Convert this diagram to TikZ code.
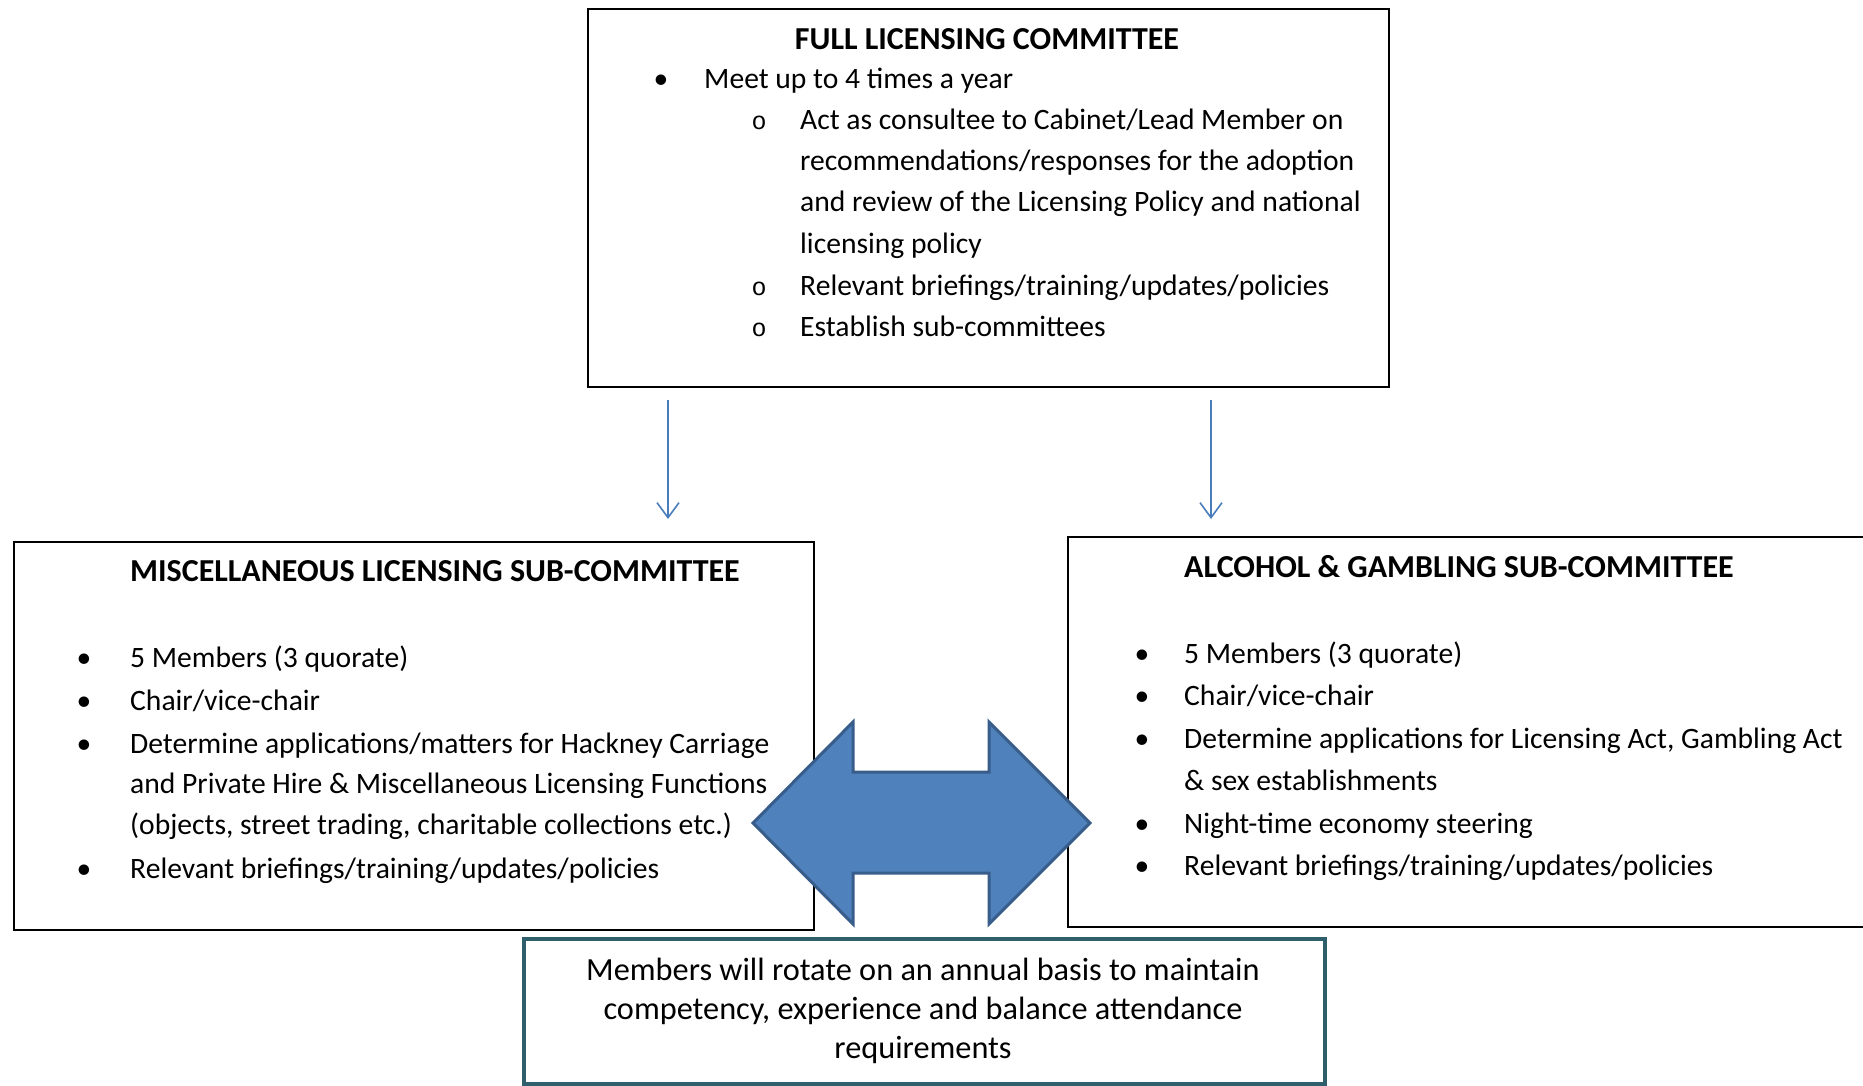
\documentclass[tikz,border=0pt]{standalone}
\usepackage{fontspec}
\setmainfont{Carlito}
\newfontfamily\monofnt{Liberation Mono}
\usetikzlibrary{arrows.meta}
\definecolor{arrowfill}{HTML}{4F81BD}
\definecolor{arrowline}{HTML}{385D8A}
\definecolor{connblue}{HTML}{4A7EBB}
\definecolor{tealbox}{HTML}{2E5F6A}
\begin{document}
\begin{tikzpicture}[x=1pt,y=-1pt,
  box/.style={draw=black, line width=2pt, inner sep=0pt, anchor=north west},
  body/.style={anchor=base west, inner sep=0pt, font=\fontsize{29.6}{35}\selectfont},
  cbody/.style={anchor=base, inner sep=0pt, font=\fontsize{32.3}{38}\selectfont},
  ttl/.style={anchor=base west, inner sep=0pt, font=\fontsize{32}{38}\selectfont\bfseries},
  bul/.style={anchor=base, inner sep=0pt, font=\fontsize{29.6}{35}\selectfont},
  subbul/.style={anchor=base, inner sep=0pt, font=\fontsize{25}{30}\monofnt},
  conn/.style={draw=connblue, line width=1.6pt, -{Straight Barb[length=15pt,width=22pt,line width=1.6pt]}},
  bigarrow/.style={fill=arrowfill, draw=arrowline, line width=3pt, line join=miter}]
\useasboundingbox (0,0) rectangle (1863,1085);
\fill[white] (0,0) rectangle (1863,1085);

% boxes
\node[box, minimum width=801pt, minimum height=378pt] (full) at (587,8) {};
\node[box, minimum width=800pt, minimum height=388pt] (misc) at (13,541) {};
\node[box, minimum width=830pt, minimum height=390pt] (alco) at (1067,536) {};
\node[box, draw=tealbox, line width=4pt, minimum width=801pt, minimum height=145pt] (rot) at (522,937) {};

% connectors
\coordinate (a1s) at (668,400);
\coordinate (a1e) at (668,519);
\coordinate (a2s) at (1211,400);
\coordinate (a2e) at (1211,519);
\draw[conn] (a1s) -- (a1e);
\draw[conn] (a2s) -- (a2e);

% full licensing committee
\node[ttl, anchor=base] (t0) at (987,49) {FULL LICENSING COMMITTEE};
\node[bul] (tb1) at (661,88) {•};
\node[body] (t1) at (704,88) {Meet up to 4 times a year};
\node[subbul] (to1) at (759,129) {o};
\node[body] (t2) at (800,129) {Act as consultee to Cabinet/Lead Member on};
\node[body] (t3) at (800,170) {recommendations/responses for the adoption};
\node[body] (t4) at (800,211) {and review of the Licensing Policy and national};
\node[body] (t5) at (800,253) {licensing policy};
\node[subbul] (to2) at (759,295) {o};
\node[body] (t6) at (800,295) {Relevant briefings/training/updates/policies};
\node[subbul] (to3) at (759,336) {o};
\node[body] (t7) at (800,336) {Establish sub-committees};

% misc sub-committee
\node[ttl] (m0) at (130,581) {MISCELLANEOUS LICENSING SUB-COMMITTEE};
\node[bul] (mb1) at (84,667) {•};
\node[body] (m1) at (130,667) {5 Members (3 quorate)};
\node[bul] (mb2) at (84,710) {•};
\node[body] (m2) at (130,710) {Chair/vice-chair};
\node[bul] (mb3) at (84,753) {•};
\node[body] (m3) at (130,753) {Determine applications/matters for Hackney Carriage};
\node[body] (m4) at (130,793) {and Private Hire \& Miscellaneous Licensing Functions};
\node[body] (m5) at (130,834) {(objects, street trading, charitable collections etc.)};
\node[bul] (mb4) at (84,878) {•};
\node[body] (m6) at (130,878) {Relevant briefings/training/updates/policies};

% alcohol sub-committee
\node[ttl] (g0) at (1184,577) {ALCOHOL \& GAMBLING SUB-COMMITTEE};
\node[bul] (gb1) at (1142,663) {•};
\node[body] (g1) at (1184,663) {5 Members (3 quorate)};
\node[bul] (gb2) at (1142,705) {•};
\node[body] (g2) at (1184,705) {Chair/vice-chair};
\node[bul] (gb3) at (1142,748) {•};
\node[body] (g3) at (1184,748) {Determine applications for Licensing Act, Gambling Act};
\node[body] (g4) at (1184,790) {\& sex establishments};
\node[bul] (gb4) at (1142,833) {•};
\node[body] (g5) at (1184,833) {Night-time economy steering};
\node[bul] (gb5) at (1142,875) {•};
\node[body] (g6) at (1184,875) {Relevant briefings/training/updates/policies};

% double arrow
\path[bigarrow] (753,823) -- (853,722) -- (853,772) -- (989,772) -- (989,722)
  -- (1090,823) -- (989,924) -- (989,873) -- (853,873) -- (853,924) -- cycle;

% rotation box text
\node[cbody] (r1) at (923,980) {Members will rotate on an annual basis to maintain};
\node[cbody] (r2) at (923,1019) {competency, experience and balance attendance};
\node[cbody] (r3) at (923,1058) {requirements};
\end{tikzpicture}
\end{document}
